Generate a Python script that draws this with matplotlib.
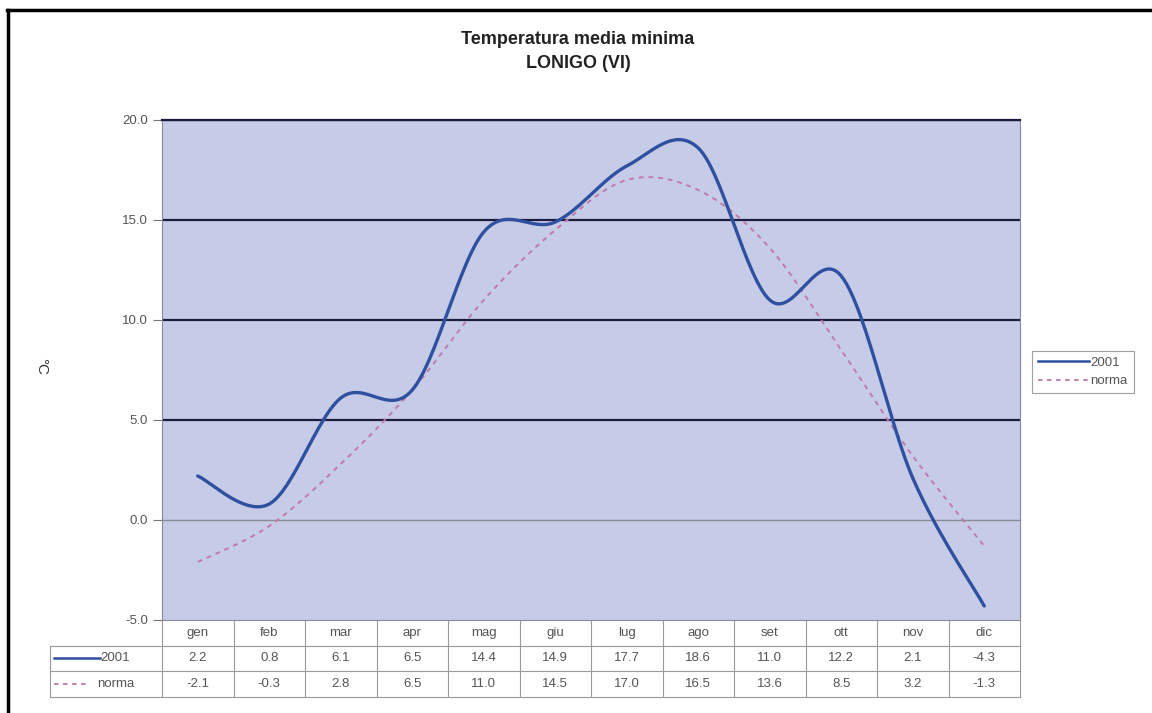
import numpy as np
import matplotlib
matplotlib.use("Agg")
import matplotlib.pyplot as plt
from matplotlib.lines import Line2D

plt.rcParams['font.family'] = ['Liberation Sans', 'DejaVu Sans']

mesi = ['gen', 'feb', 'mar', 'apr', 'mag', 'giu', 'lug', 'ago', 'set', 'ott', 'nov', 'dic']
t2001 = [2.2, 0.8, 6.1, 6.5, 14.4, 14.9, 17.7, 18.6, 11.0, 12.2, 2.1, -4.3]
norma = [-2.1, -0.3, 2.8, 6.5, 11.0, 14.5, 17.0, 16.5, 13.6, 8.5, 3.2, -1.3]
yticks = [-5.0, 0.0, 5.0, 10.0, 15.0, 20.0]


def smooth(y, n=30):
    # excel-like smoothed line: bezier through the points, catmull-rom control points
    x = np.arange(len(y), dtype=float)
    y = np.asarray(y, dtype=float)
    px = np.concatenate([[x[0]], x, [x[-1]]])
    py = np.concatenate([[y[0]], y, [y[-1]]])
    xs, ys = [], []
    t = np.linspace(0, 1, n)
    for i in range(len(y) - 1):
        p0 = np.array([px[i + 1], py[i + 1]])
        p3 = np.array([px[i + 2], py[i + 2]])
        c1 = p0 + (p3 - np.array([px[i], py[i]])) / 6
        c2 = p3 - (np.array([px[i + 3], py[i + 3]]) - p0) / 6
        for k in range(2):
            b = ((1 - t) ** 3 * p0[k] + 3 * (1 - t) ** 2 * t * c1[k]
                 + 3 * (1 - t) * t ** 2 * c2[k] + t ** 3 * p3[k])
            (xs if k == 0 else ys).append(b)
    return np.concatenate(xs), np.concatenate(ys)


W, H = 1152, 713
fig = plt.figure(figsize=(W / 100, H / 100), dpi=100)
fig.patch.set_facecolor('white')

# outer black border (top and left only, the picture is cropped)
fig.add_artist(Line2D([7 / W, 1], [1 - 10 / H, 1 - 10 / H], color='black', lw=2.5, transform=fig.transFigure))
fig.add_artist(Line2D([8 / W, 8 / W], [0, 1 - 10 / H], color='black', lw=2.5, transform=fig.transFigure))

L, R, T, B = 162, 1020, 120, 620
ax = fig.add_axes([L / W, 1 - B / H, (R - L) / W, (B - T) / H])
ax.set_facecolor('#c6cce8')
ax.set_xlim(-0.5, len(mesi) - 0.5)
ax.set_ylim(-5, 20)

for v in yticks:
    if v == 0:
        ax.axhline(v, color='#8a8a9a', lw=1.0, zorder=1)
    elif v > 0:
        ax.axhline(v, color='#1c1c40', lw=1.6, zorder=1)

ax.set_yticks(yticks)
ax.set_yticklabels(['%.1f' % v for v in yticks], fontsize=9.5, color='#555555')
ax.set_xticks([])
ax.tick_params(axis='y', length=6.5, color='#777777', pad=3.5)
for s in ['left', 'bottom']:
    ax.spines[s].set_color('#8a8a9a')
ax.spines['top'].set_color('#1c1c40')
ax.spines['top'].set_linewidth(1.6)
ax.spines['right'].set_color('#8a8a9a')

fig.text(41 / W, 1 - 366 / H, '°C', rotation=-90, ha='center', va='center', fontsize=11, color='#333333')

xs, ys = smooth(t2001)
ax.plot(xs, ys, color='#2f4f9f', lw=2.4, solid_capstyle='round', zorder=4, label='2001')
xs, ys = smooth(norma)
ax.plot(xs, ys, color='#c07aa8', lw=1.4, ls=(0, (2.5, 2.5)), zorder=3, label='norma')

# title
fig.text(578 / W, 1 - 40 / H, 'Temperatura media minima', ha='center', va='center',
         fontsize=13, fontweight='bold', color='#222222')
fig.text(578 / W, 1 - 64 / H, 'LONIGO (VI)', ha='center', va='center',
         fontsize=13, fontweight='bold', color='#222222')

# legend
leg = fig.legend(handles=[Line2D([], [], color='#2f4f9f', lw=1.8),
                          Line2D([], [], color='#c07aa8', lw=1.3, ls=(0, (2.5, 2.5)))],
                 labels=['2001', 'norma'], loc='center left',
                 bbox_to_anchor=(1025 / W, 1 - 372 / H), fontsize=9.5,
                 frameon=True, fancybox=False, edgecolor='#888888',
                 handlelength=3.9, handletextpad=0.1, borderpad=0.45, labelspacing=0.45)
leg.get_frame().set_linewidth(0.8)
for t in leg.get_texts():
    t.set_color('#555555')

# data table under the plot, aligned with the category axis
tr = ax.get_xaxis_transform()
rowh = 25.5 / (B - T)
xlab = -0.5 - (L - 50) / ((R - L) / len(mesi))
grid = dict(color='#9a9a9a', lw=0.8, transform=tr, clip_on=False)
ax.add_line(Line2D([xlab, len(mesi) - 0.5], [-rowh, -rowh], **grid))
ax.add_line(Line2D([xlab, len(mesi) - 0.5], [-2 * rowh, -2 * rowh], **grid))
ax.add_line(Line2D([xlab, len(mesi) - 0.5], [-3 * rowh, -3 * rowh], **grid))
ax.add_line(Line2D([xlab, xlab], [-rowh, -3 * rowh], **grid))
for i in range(len(mesi) + 1):
    ax.add_line(Line2D([i - 0.5, i - 0.5], [0, -3 * rowh], **grid))

for i, m in enumerate(mesi):
    ax.text(i, -0.5 * rowh, m, transform=tr, ha='center', va='center', fontsize=9.5, color='#555555')
    ax.text(i, -1.5 * rowh, '%.1f' % t2001[i], transform=tr, ha='center', va='center', fontsize=9.5, color='#555555')
    ax.text(i, -2.5 * rowh, '%.1f' % norma[i], transform=tr, ha='center', va='center', fontsize=9.5, color='#555555')

# legend keys in the row labels
ax.add_line(Line2D([xlab + 0.06, xlab + 0.7], [-1.5 * rowh, -1.5 * rowh], color='#2f4f9f', lw=1.8,
                   transform=tr, clip_on=False))
ax.text(xlab + 0.71, -1.5 * rowh, '2001', transform=tr, ha='left', va='center', fontsize=9.5, color='#555555')
ax.add_line(Line2D([xlab + 0.06, xlab + 0.56], [-2.5 * rowh, -2.5 * rowh], color='#c07aa8', lw=1.3,
                   ls=(0, (2.5, 2.5)), transform=tr, clip_on=False))
ax.text(xlab + 0.66, -2.5 * rowh, 'norma', transform=tr, ha='left', va='center', fontsize=9.5, color='#555555')

fig.savefig('out.png', dpi=100, facecolor='white')
